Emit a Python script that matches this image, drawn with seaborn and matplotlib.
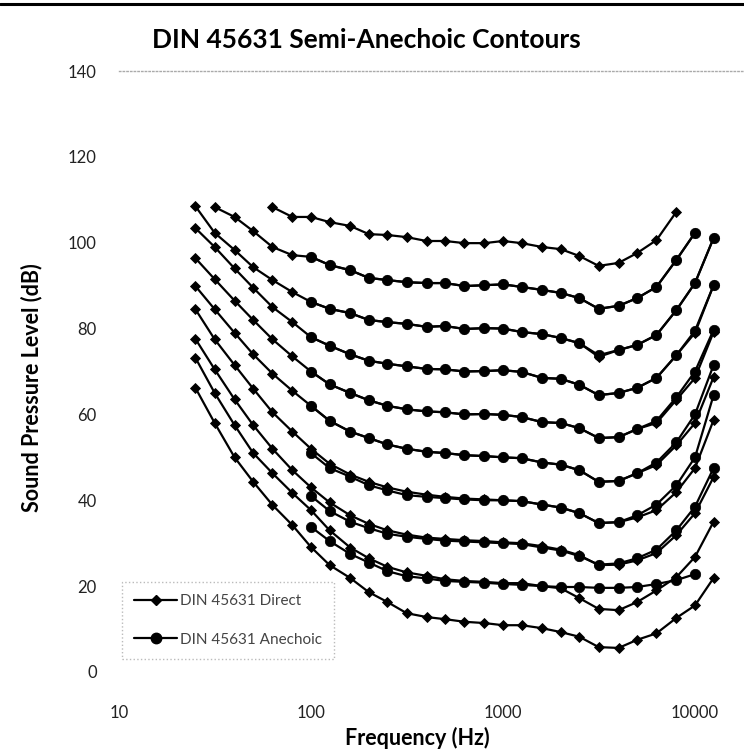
import matplotlib
matplotlib.use("Agg")
import matplotlib.pyplot as plt
from matplotlib.lines import Line2D
import seaborn as sns
import pandas as pd
import numpy as np

sns.set_theme(style="white")
plt.rcParams['font.family'] = ['Lato', 'DejaVu Sans']

# third-octave frequencies (Hz)
freqs = [25, 31.5, 40, 50, 63, 80, 100, 125, 160, 200, 250, 315, 400, 500, 630, 800,
         1000, 1250, 1600, 2000, 2500, 3150, 4000, 5000, 6300, 8000, 10000, 12500]

# DIN 45631 Direct contours (dB SPL), None = no point
direct_100 = [None, None, None, None, 108.3, 106.0, 106.0, 104.8, 103.9, 102.0, 101.8, 101.3, 100.4, 100.4, 99.9, 99.9,
              100.4, 99.9, 99.0, 98.5, 96.9, 94.6, 95.3, 97.6, 100.6, 107.2, None, None]
direct_90 = [None, 108.3, 106.0, 102.7, 99.0, 97.1, 96.7, 94.8, 93.6, 91.8, 91.3, 90.8, 90.6, 90.6, 89.9, 90.1,
             90.3, 89.7, 89.0, 88.3, 87.1, 84.6, 85.3, 87.1, 89.7, 96.0, 102.3, None]
direct_80 = [108.5, 102.3, 98.3, 94.3, 91.3, 88.5, 86.2, 84.6, 83.6, 82.0, 81.5, 81.1, 80.4, 80.6, 79.9, 80.1,
             80.0, 79.2, 78.7, 77.8, 76.6, 73.4, 75.0, 76.2, 78.5, 84.3, 90.6, 101.1]
direct_70 = [103.4, 99.0, 94.0, 89.5, 85.0, 81.5, 78.0, 76.0, 74.0, 72.5, 71.8, 71.2, 70.6, 70.5, 70.0, 70.1,
             70.3, 69.9, 68.5, 68.3, 66.9, 64.5, 65.0, 66.2, 68.5, 73.8, 79.0, 90.1]
direct_60 = [96.4, 91.5, 86.5, 82.0, 77.5, 73.5, 70.0, 67.0, 65.0, 63.3, 62.0, 61.2, 60.7, 60.5, 60.0, 60.1,
             59.9, 59.4, 58.2, 58.0, 56.8, 54.5, 54.7, 56.6, 58.0, 63.4, 68.5, 79.2]
direct_50 = [89.9, 84.5, 79.0, 74.0, 69.5, 65.5, 62.0, 58.5, 56.0, 54.5, 53.0, 52.0, 51.3, 51.0, 50.5, 50.3,
             50.0, 49.8, 48.8, 48.3, 47.0, 44.3, 44.5, 46.3, 48.2, 52.8, 58.0, 68.7]
direct_40 = [84.5, 77.5, 71.5, 66.0, 60.5, 56.0, 52.0, 48.5, 46.0, 44.3, 43.0, 42.0, 41.3, 40.8, 40.4, 40.2,
             40.0, 39.8, 39.0, 38.3, 37.0, 34.7, 34.9, 36.0, 37.7, 41.9, 47.5, 58.7]
direct_30 = [77.6, 70.5, 63.5, 57.5, 52.0, 47.0, 43.0, 39.5, 36.5, 34.5, 33.0, 32.0, 31.3, 31.0, 30.7, 30.5,
             30.2, 30.0, 29.3, 28.5, 27.2, 24.9, 25.0, 26.0, 27.7, 31.9, 37.0, 45.4]
direct_20 = [73.2, 65.0, 57.5, 51.0, 46.3, 41.7, 37.7, 33.0, 29.0, 26.5, 24.5, 23.2, 22.4, 21.6, 21.2, 21.0,
             20.7, 20.7, 20.0, 19.5, 17.2, 14.7, 14.4, 16.3, 19.0, 22.1, 26.8, 35.0]
direct_10 = [66.2, 58.0, 50.0, 44.3, 38.9, 34.2, 29.1, 24.9, 21.9, 18.6, 16.3, 13.7, 12.8, 12.3, 11.7, 11.4,
             10.9, 10.9, 10.2, 9.3, 8.2, 5.8, 5.6, 7.5, 9.0, 12.6, 15.5, 21.9]

# DIN 45631 Anechoic contours (dB SPL), from 100 Hz
anech_90 = [None] * 6 + [96.7, 94.8, 93.6, 91.8, 91.3, 90.8, 90.6, 90.6, 89.9, 90.1,
                         90.3, 89.7, 89.0, 88.3, 87.1, 84.6, 85.3, 87.1, 89.7, 96.0, 102.3, None]
anech_80 = [None] * 6 + [86.2, 84.6, 83.6, 82.0, 81.5, 81.1, 80.4, 80.6, 79.9, 80.1,
                         80.0, 79.2, 78.7, 77.8, 76.6, 73.8, 75.0, 76.2, 78.5, 84.3, 90.6, 101.1]
anech_70 = [None] * 6 + [78.0, 76.0, 74.0, 72.5, 71.8, 71.2, 70.6, 70.5, 70.0, 70.1,
                         70.3, 69.9, 68.5, 68.3, 66.9, 64.5, 65.0, 66.2, 68.5, 73.8, 79.5, 90.1]
anech_60 = [None] * 6 + [70.0, 67.0, 65.0, 63.3, 62.0, 61.2, 60.7, 60.5, 60.0, 60.1,
                         59.9, 59.4, 58.2, 58.0, 56.8, 54.5, 54.7, 56.6, 58.5, 64.0, 70.0, 79.7]
anech_50 = [None] * 6 + [62.0, 58.5, 56.0, 54.5, 53.0, 52.0, 51.3, 51.0, 50.5, 50.3,
                         50.0, 49.8, 48.8, 48.3, 47.0, 44.3, 44.5, 46.3, 48.8, 53.5, 60.0, 71.5]
anech_40 = [None] * 6 + [51.0, 47.5, 45.5, 43.5, 42.3, 41.2, 40.8, 40.5, 40.2, 40.0,
                         40.0, 39.8, 39.0, 38.3, 37.0, 34.7, 34.9, 36.5, 39.0, 43.5, 50.0, 64.5]
anech_30 = [None] * 6 + [41.0, 37.5, 35.0, 33.5, 32.2, 31.5, 31.0, 30.6, 30.4, 30.2,
                         30.0, 29.8, 29.0, 28.3, 27.0, 25.0, 25.3, 26.5, 28.5, 33.0, 38.5, 47.5]
anech_20 = [None] * 6 + [33.8, 30.5, 27.5, 25.5, 23.5, 22.3, 21.8, 21.2, 21.0, 20.8,
                         20.5, 20.3, 20.0, 19.8, 19.8, 19.6, 19.6, 19.8, 20.5, 21.4, 22.8, None]

direct = {100: direct_100, 90: direct_90, 80: direct_80, 70: direct_70, 60: direct_60,
          50: direct_50, 40: direct_40, 30: direct_30, 20: direct_20, 10: direct_10}
anech = {90: anech_90, 80: anech_80, 70: anech_70, 60: anech_60,
         50: anech_50, 40: anech_40, 30: anech_30, 20: anech_20}

def to_df(d):
    rows = []
    for lvl, vals in d.items():
        for f, v in zip(freqs, vals):
            if v is not None:
                rows.append((f, v, lvl))
    return pd.DataFrame(rows, columns=["freq", "spl", "level"])

df_d = to_df(direct)
df_a = to_df(anech)

W, H = 744, 755
fig = plt.figure(figsize=(W / 100, H / 100), dpi=100)
ax = fig.add_axes([119 / W, 83 / H, 625 / W, 601 / H])

LW = 1.6
sns.lineplot(data=df_d, x="freq", y="spl", units="level", estimator=None, ax=ax,
             color="black", lw=LW, marker="D", markersize=5.2, markeredgewidth=0.6,
             markeredgecolor="black", legend=False)
sns.lineplot(data=df_a, x="freq", y="spl", units="level", estimator=None, ax=ax,
             color="black", lw=LW, marker="o", markersize=7.5, markeredgewidth=0.5,
             markeredgecolor="black", legend=False)

ax.set_xscale("log")
ax.set_xlim(10, 18000)
ax.set_ylim(0, 140)
ax.set_yticks(range(0, 141, 20))
ax.set_xticks([10, 100, 1000, 10000])
ax.set_xticklabels(["10", "100", "1000", "10000"])
ax.minorticks_off()
ax.tick_params(axis="both", length=0, labelsize=12, labelcolor="#222222")
ax.tick_params(axis="y", pad=16)
ax.tick_params(axis="x", pad=24)

for s in ["left", "right", "bottom"]:
    ax.spines[s].set_visible(False)
ax.spines["top"].set_color("#aaaaaa")
ax.spines["top"].set_linestyle(":")
ax.spines["top"].set_linewidth(1.0)
ax.grid(False)

ax.set_xlabel("Frequency (Hz)", fontsize=15.5, fontweight="bold", color="black")
ax.set_ylabel("Sound Pressure Level (dB)", fontsize=15.5, fontweight="bold", color="black")
ax.xaxis.set_label_coords((417 - 119) / 625, -(727 - 672) / 601)
ax.yaxis.set_label_coords(-(119 - 42) / 625, (672 - 388) / 601)

fig.text(366 / W, 1 - 40 / H, "DIN 45631 Semi-Anechoic Contours", ha="center", va="center",
         fontsize=19, fontweight="bold", color="black")

# scanned page rule at top
fig.add_artist(Line2D([0, 1], [1 - 4 / H, 1 - 4 / H], transform=fig.transFigure,
                      color="black", lw=2.2))

handles = [Line2D([], [], color="black", lw=LW, marker="D", markersize=5.2),
           Line2D([], [], color="black", lw=LW, marker="o", markersize=7.5)]
leg = ax.legend(handles, ["DIN 45631 Direct", "DIN 45631 Anechoic"], loc="upper left",
                bbox_to_anchor=((122 - 119) / 625, (672 - 582) / 601), borderaxespad=0,
                fontsize=11, labelspacing=1.6, handlelength=2.8, handletextpad=0.2,
                frameon=True, fancybox=False, borderpad=0.8)
frame = leg.get_frame()
frame.set_edgecolor("#aaaaaa")
frame.set_linestyle(":")
frame.set_linewidth(1.0)
for t in leg.get_texts():
    t.set_color("#444444")

fig.savefig("out.png", dpi=100)
